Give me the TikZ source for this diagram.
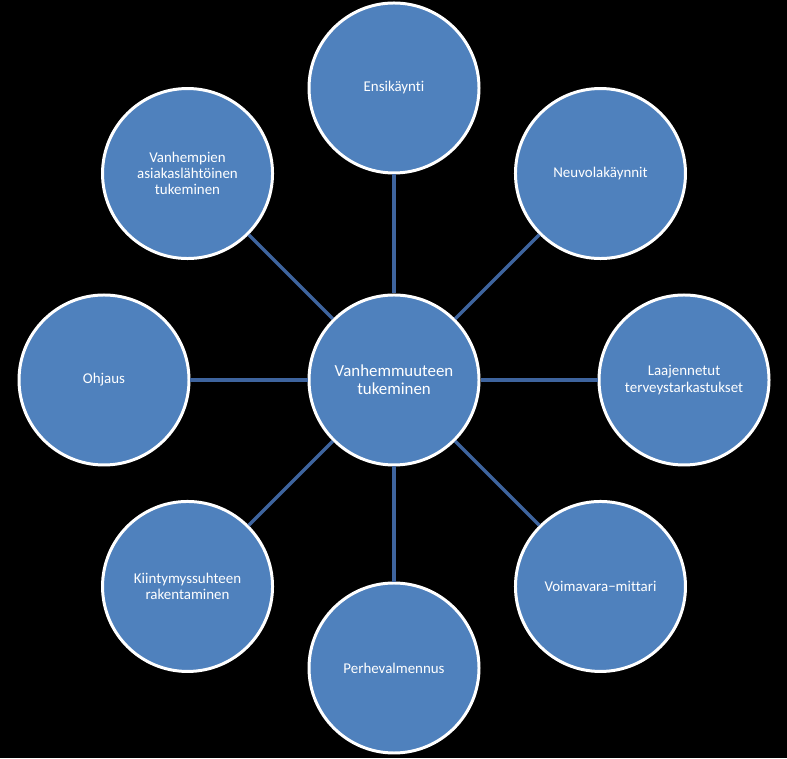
\documentclass[tikz,border=0pt]{standalone}
\usepackage{fontspec}
\setmainfont{Carlito}[Ligatures={NoCommon,NoRare,NoDiscretionary}]
\definecolor{tilefill}{RGB}{79,129,189}
\definecolor{spoke}{RGB}{62,100,158}

\begin{document}
\begin{tikzpicture}[
        tile/.style={circle, draw=white, line width=1.7pt, fill=tilefill,
            minimum size=3.4cm, inner sep=0pt, text=white, align=center,
            font=\fontsize{8.5}{9.2}\selectfont},
        hub/.style={tile, font=\fontsize{9.6}{10.4}\selectfont},
        spokeline/.style={draw=spoke, line width=2pt}]

        \fill[black] (0,0) rectangle (15.74,15.16);

        \node (hub) [hub] at (7.88,7.56) {Vanhemmuuteen\\tukeminen};
        \node (ensi) [tile] at ([shift={(90:5.84)}]hub) {Ensikäynti};
        \node (neuvola) [tile] at ([shift={(45:5.84)}]hub) {Neuvolakäynnit};
        \node (laaja) [tile] at ([shift={(0:5.8)}]hub) {Laajennetut\\terveystarkastukset};
        \node (voima) [tile] at ([shift={(-45:5.84)}]hub) {Voimavara−mittari};
        \node (perhe) [tile] at ([shift={(-90:5.76)}]hub) {Perhevalmennus};
        \node (kiinty) [tile] at ([shift={(-135:5.84)}]hub) {Kiintymyssuhteen\\rakentaminen};
        \node (ohjaus) [tile] at ([shift={(180:5.8)}]hub) {Ohjaus};
        \node (vanh) [tile] at ([shift={(135:5.84)}]hub) {Vanhempien\\asiakaslähtöinen\\tukeminen};

        \draw[spokeline] (hub) -- (ensi);
        \draw[spokeline] (hub) -- (neuvola);
        \draw[spokeline] (hub) -- (laaja);
        \draw[spokeline] (hub) -- (voima);
        \draw[spokeline] (hub) -- (perhe);
        \draw[spokeline] (hub) -- (kiinty);
        \draw[spokeline] (hub) -- (ohjaus);
        \draw[spokeline] (hub) -- (vanh);

\end{tikzpicture}
\end{document}
